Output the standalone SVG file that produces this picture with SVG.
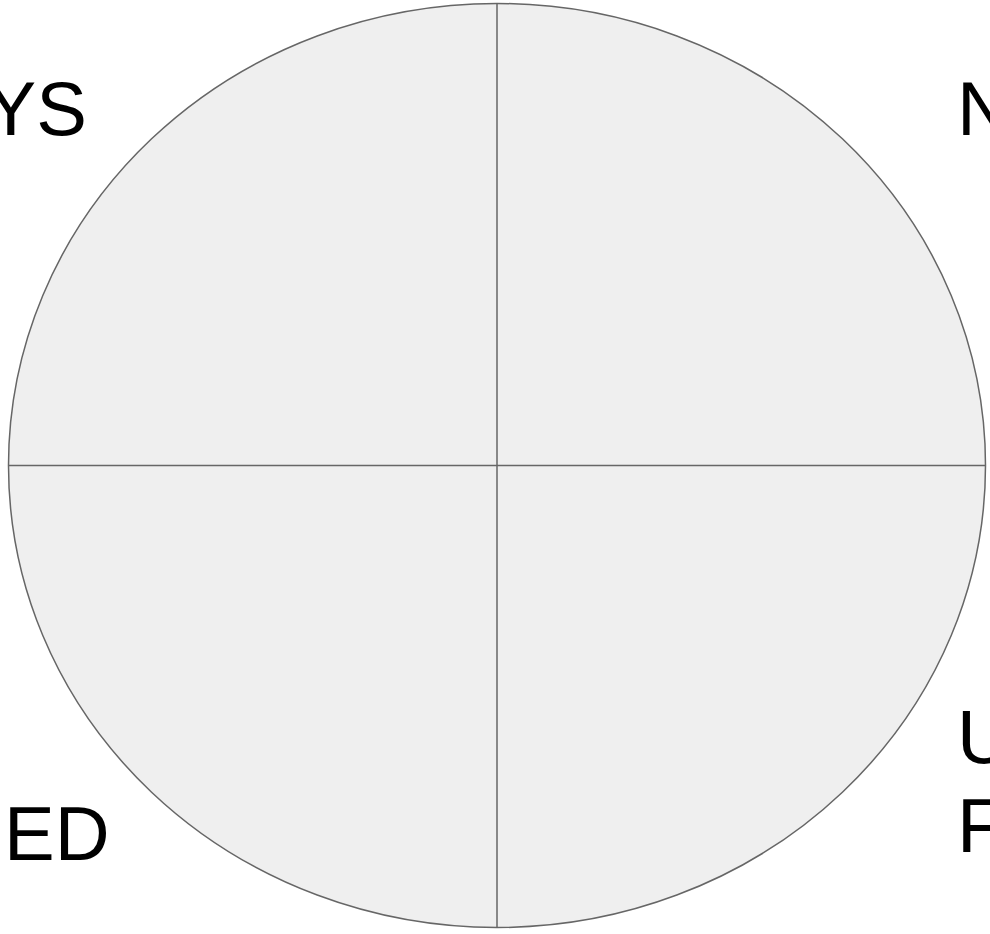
<svg xmlns="http://www.w3.org/2000/svg" width="990" height="934" viewBox="0 0 990 934">
<style>
.shape{fill:#efefef;stroke:#666666;stroke-width:1.5}
.div{stroke:#666666;stroke-width:1.5;fill:none}
.lbl{font-family:"Liberation Sans",Arial,sans-serif;font-size:76px;fill:#000000}
</style>
<rect width="990" height="934" fill="#ffffff"/>
<g id="circle">
<ellipse class="shape" cx="497" cy="465.5" rx="488.5" ry="462"/>
</g>
<g id="dividers">
<line class="div" x1="497" y1="3.5" x2="497" y2="927.5"/>
<line class="div" x1="8.5" y1="465.5" x2="985.5" y2="465.5"/>
</g>
<g id="label-tl"><text class="lbl" x="87" y="135" text-anchor="end">YS</text></g>
<g id="label-tr"><text class="lbl" x="957" y="135">N</text></g>
<g id="label-bl"><text class="lbl" x="4" y="860">ED</text></g>
<g id="label-br"><text class="lbl" x="957" y="763">U</text><text class="lbl" x="957" y="852">F</text></g>
</svg>
